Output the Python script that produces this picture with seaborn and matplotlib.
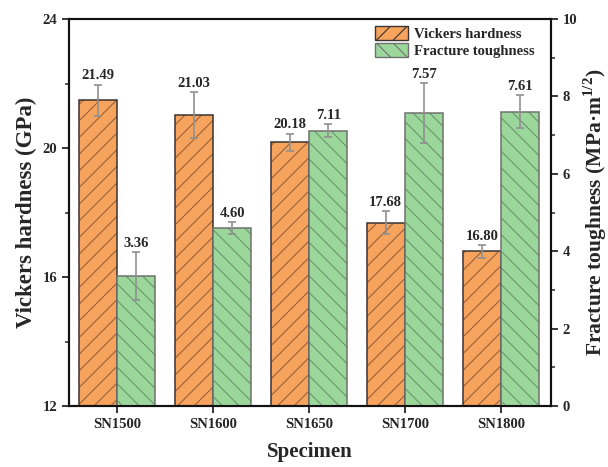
import numpy as np
import pandas as pd
import matplotlib
matplotlib.use("Agg")
import matplotlib.pyplot as plt
from matplotlib.patches import Patch, Rectangle
from matplotlib.ticker import MultipleLocator
import seaborn as sns

# Measured properties per sintering temperature
specimens = ["SN1500", "SN1600", "SN1650", "SN1700", "SN1800"]
hardness = [21.49, 21.03, 20.18, 17.68, 16.80]          # GPa
hardness_err = [0.48, 0.72, 0.27, 0.36, 0.20]
toughness = [3.36, 4.60, 7.11, 7.57, 7.61]              # MPa·m^1/2
toughness_err = [0.63, 0.15, 0.17, 0.77, 0.42]

series = ["Vickers hardness", "Fracture toughness"]
fill = {"Vickers hardness": "#F6A35E", "Fracture toughness": "#9BD79B"}
edge = {"Vickers hardness": "#3a3330", "Fracture toughness": "#707070"}
hatch_col = {"Vickers hardness": "#9a6338", "Fracture toughness": "#6b946b"}
hatches = {"Vickers hardness": "//", "Fracture toughness": "\\\\"}

sns.set_style("ticks")
plt.rcParams["font.family"] = ["Liberation Serif", "DejaVu Serif"]
plt.rcParams["font.weight"] = "bold"
plt.rcParams["axes.labelweight"] = "bold"
plt.rcParams["mathtext.fontset"] = "custom"
plt.rcParams["mathtext.rm"] = "Liberation Serif:bold"
plt.rcParams["mathtext.bf"] = "Liberation Serif:bold"
plt.rcParams["hatch.linewidth"] = 0.8

df_h = pd.DataFrame({"Specimen": specimens, "value": hardness, "Property": series[0]})
df_t = pd.DataFrame({"Specimen": specimens, "value": toughness, "Property": series[1]})

fig = plt.figure(figsize=(6.08, 4.67), dpi=100)
ax1 = fig.add_axes([0.1135, 0.1306, 0.7925, 0.8285])
ax2 = ax1.twinx()

sns.barplot(data=df_h, x="Specimen", y="value", hue="Property", hue_order=series,
            palette=fill, saturation=1, width=0.8, gap=0, dodge=True, legend=False,
            ax=ax1, errorbar=None)
sns.barplot(data=df_t, x="Specimen", y="value", hue="Property", hue_order=series,
            palette=fill, saturation=1, width=0.8, gap=0, dodge=True, legend=False,
            ax=ax2, errorbar=None)


def style_bars(ax, name):
    """Hatch the bars in a muted tone and trace each outline in a darker edge."""
    bars = [p for p in ax.patches if isinstance(p, Rectangle) and p.get_height() > 0]
    for p in bars:
        p.set_hatch(hatches[name])
        p.set_edgecolor(hatch_col[name])
        p.set_linewidth(0)
        outline = Rectangle(p.get_xy(), p.get_width(), p.get_height(), fill=False,
                            edgecolor=edge[name], linewidth=1.1, zorder=p.get_zorder() + 0.1)
        ax.add_patch(outline)
    return bars


bars1 = style_bars(ax1, series[0])
bars2 = style_bars(ax2, series[1])

for ax, bars, vals, errs in ((ax1, bars1, hardness, hardness_err),
                             (ax2, bars2, toughness, toughness_err)):
    xs = [p.get_x() + p.get_width() / 2 for p in bars]
    ax.errorbar(xs, vals, yerr=errs, fmt="none", ecolor="#909090",
                elinewidth=1.2, capsize=3, capthick=1.2, zorder=5)
    for x, v, e in zip(xs, vals, errs):
        ax.annotate(f"{v:.2f}", (x, v + e), xytext=(0, 1.5), textcoords="offset points",
                    ha="center", va="bottom", fontsize=10.5, fontweight="bold")

ax1.set_ylim(12, 24)
ax1.yaxis.set_major_locator(MultipleLocator(4))
ax1.yaxis.set_minor_locator(MultipleLocator(2))
ax2.set_ylim(0, 10)
ax2.yaxis.set_major_locator(MultipleLocator(2))
ax2.yaxis.set_minor_locator(MultipleLocator(1))
ax1.set_xlim(-0.5, 4.52)

ax1.set_xlabel("Specimen", fontsize=15, fontweight="bold", labelpad=8)
ax1.set_ylabel("Vickers hardness (GPa)", fontsize=16.5, fontweight="bold", labelpad=4)
ax2.set_ylabel(r"Fracture toughness (MPa·m$^{\mathbf{1/2}}$)", fontsize=15.5,
               fontweight="bold", labelpad=3)

for ax in (ax1, ax2):
    ax.tick_params(which="major", direction="out", length=5, width=1.3, labelsize=10.5)
    ax.tick_params(which="minor", direction="out", length=3, width=1.1)
    for s in ax.spines.values():
        s.set_linewidth(1.5)
        s.set_color("#111111")
    for lab in ax.get_xticklabels() + ax.get_yticklabels():
        lab.set_fontweight("bold")
ax1.tick_params(axis="x", which="minor", bottom=False)
ax2.set_xlabel("Specimen", fontsize=15, fontweight="bold", labelpad=8)

handles = [Patch(facecolor=fill[n], edgecolor=edge[n], hatch=hatches[n], label=n) for n in series]
ax1.legend(handles=handles, loc="upper right", bbox_to_anchor=(0.985, 1.005), frameon=False,
           handlelength=2.3, handleheight=1.1, labelspacing=0.15,
           handletextpad=0.4, borderaxespad=0.2,
           prop={"weight": "bold", "size": 10.5})

fig.savefig("out.png", dpi=100)
